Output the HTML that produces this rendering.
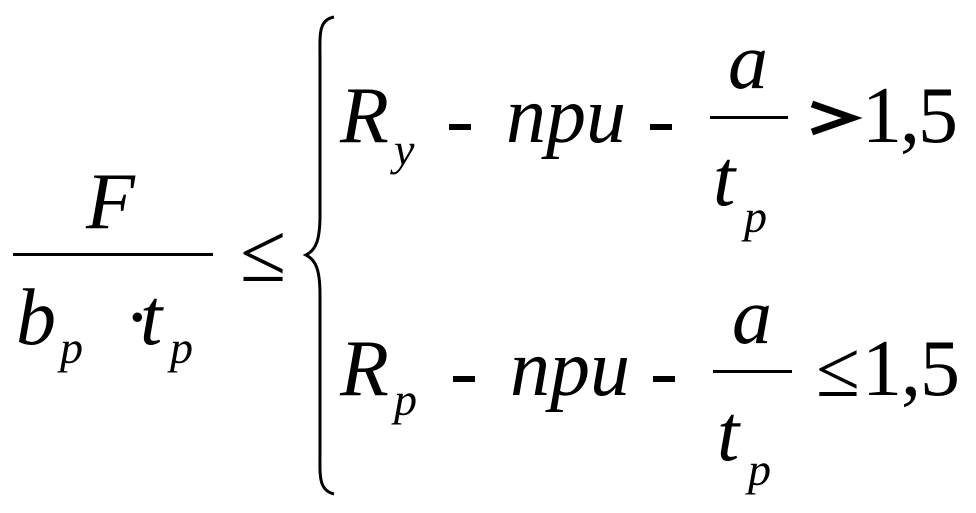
<!DOCTYPE html>
<html><head><meta charset="utf-8"><style>
html,body{margin:0;padding:0;background:#fff;width:976px;height:513px;overflow:hidden}
svg{display:block}
text{font-family:"Liberation Serif",serif;fill:#000}
.i{font-style:italic}
</style></head><body>
<svg width="976" height="513" viewBox="0 0 976 513" xmlns="http://www.w3.org/2000/svg">
<!-- left fraction -->
<text class="i" x="86" y="228" font-size="80">F</text>
<rect x="13" y="253" width="200" height="3"/>
<text class="i" x="16" y="344" font-size="80">b</text>
<text class="i" x="60" y="363" font-size="46">p</text>
<text x="124" y="344" font-size="80">·</text>
<text class="i" x="140" y="344" font-size="80">t</text>
<text class="i" x="170" y="363" font-size="46">p</text>
<text x="240" y="281" font-size="84">≤</text>
<!-- brace -->
<path d="M334,17 C318,20 320,35 320,60 L320,215 C320,240 316,250 306,255 C316,260 320,270 320,295 L320,450 C320,475 318,490 334,494" fill="none" stroke="#000" stroke-width="3"/>
<!-- row 1 -->
<text class="i" x="340" y="142" font-size="80">R</text>
<text class="i" x="394" y="165" font-size="46">y</text>
<rect x="449" y="124" width="22" height="6"/>
<text class="i" x="506" y="142" font-size="80">npu</text>
<rect x="650" y="124" width="22" height="6"/>
<text class="i" x="728" y="88" font-size="80">a</text>
<rect x="710" y="116" width="78" height="3"/>
<text class="i" x="713" y="205" font-size="80">t</text>
<text class="i" x="744" y="232" font-size="46">p</text>
<path d="M812,104 L852,118 L812,132" fill="none" stroke="#000" stroke-width="7"/>
<text x="862" y="142" font-size="80" textLength="96" lengthAdjust="spacing">1,5</text>
<!-- row 2 -->
<text class="i" x="340" y="395" font-size="80">R</text>
<text class="i" x="394" y="415" font-size="46">p</text>
<rect x="453" y="376" width="22" height="6"/>
<text class="i" x="510" y="395" font-size="80">npu</text>
<rect x="653" y="376" width="22" height="6"/>
<text class="i" x="732" y="343" font-size="80">a</text>
<rect x="713" y="370" width="79" height="3"/>
<text class="i" x="717" y="460" font-size="80">t</text>
<text class="i" x="748" y="485" font-size="46">p</text>
<text x="816" y="396" font-size="80">≤</text>
<text x="862" y="395" font-size="80" textLength="98" lengthAdjust="spacing">1,5</text>
</svg>
</body></html>
